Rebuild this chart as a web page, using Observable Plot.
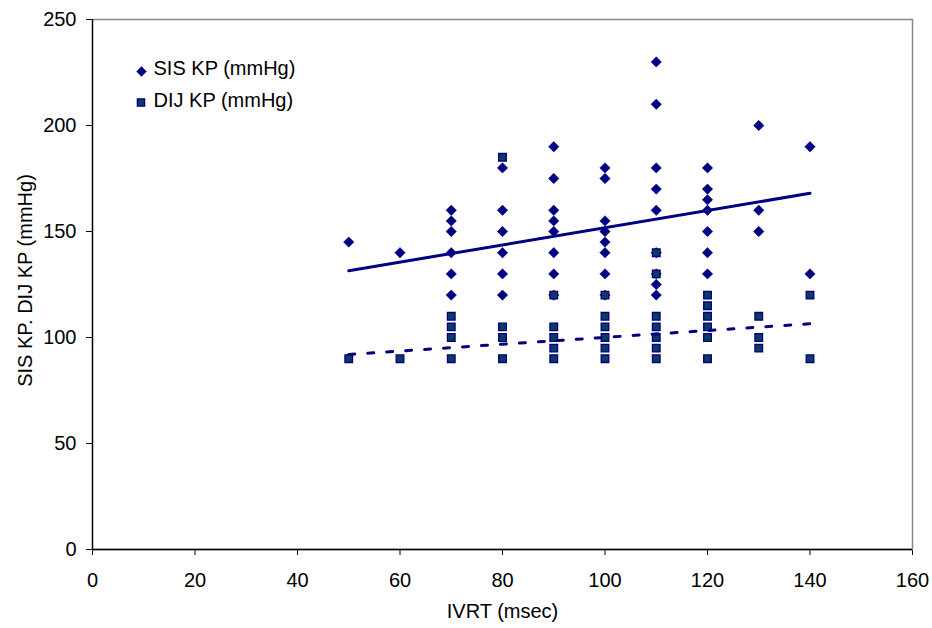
<!DOCTYPE html>
<html>
<head>
<meta charset="utf-8">
<script src="https://cdn.jsdelivr.net/npm/d3@7"></script>
<script src="https://cdn.jsdelivr.net/npm/@observablehq/plot@0.6"></script>
<style>
  html, body { margin: 0; padding: 0; background: #fff; }
  #chart { width: 932px; height: 628px; }
</style>
</head>
<body>
<div id="chart"></div>
<script>
// IVRT groups (msec)
const ivrtGroups = [50, 60, 70, 80, 90, 100, 110, 120, 130, 140];
// Systolic pressure (SIS KP, mmHg) per IVRT group
const sisByGroup = [
  [145],
  [140],
  [160, 155, 150, 140, 130, 120],
  [180, 160, 150, 140, 130, 120],
  [190, 175, 160, 155, 150, 140, 130, 120],
  [180, 175, 155, 150, 145, 140, 130, 120],
  [230, 210, 180, 170, 160, 140, 130, 125, 120],
  [180, 170, 165, 160, 150, 140, 130],
  [200, 160, 150],
  [190, 130]
];
// Diastolic pressure (DIJ KP, mmHg) per IVRT group
const dijByGroup = [
  [90],
  [90],
  [110, 105, 100, 90],
  [185, 105, 100, 90],
  [120, 105, 100, 95, 90],
  [120, 110, 105, 100, 95, 90],
  [140, 130, 110, 105, 100, 95, 90],
  [120, 115, 110, 105, 100, 90],
  [110, 100, 95],
  [120, 90]
];
// Linear trend lines
const trendX = [50, 140];
const sisTrend = [131.5, 168];
const dijTrend = [92, 106.5];

const xTicks = [0, 20, 40, 60, 80, 100, 120, 140, 160];
const yTicks = [0, 50, 100, 150, 200, 250];
const xTitle = "IVRT (msec)";
const yTitle = "SIS KP. DIJ KP (mmHg)";
const legendLabels = ["SIS KP (mmHg)", "DIJ KP (mmHg)"];

const sis = ivrtGroups.flatMap((x, i) => sisByGroup[i].map(y => ({x, y})));
const dij = ivrtGroups.flatMap((x, i) => dijByGroup[i].map(y => ({x, y})));
const sisLine = trendX.map((x, i) => ({x, y: sisTrend[i]}));
const dijLine = trendX.map((x, i) => ({x, y: dijTrend[i]}));

const navy = "#000080";
const sqFill = "#0b3b63";

const chart = Plot.plot({
  width: 932,
  height: 628,
  marginLeft: 92,
  marginRight: 20,
  marginTop: 19,
  marginBottom: 79,
  style: {fontFamily: "'Liberation Sans', Arial, sans-serif", fontSize: "20px", color: "#000", background: "#fff"},
  x: {domain: [0, 160], ticks: xTicks, tickSize: 6, tickPadding: 17, label: null},
  y: {domain: [0, 250], ticks: yTicks, tickSize: 6, tickPadding: 10, label: null},
  marks: [
    Plot.frame({stroke: "#888", strokeWidth: 1.5}),
    Plot.ruleX([0], {stroke: "#000", strokeWidth: 1.3}),
    Plot.ruleY([0], {stroke: "#000", strokeWidth: 1.3}),
    Plot.dot(sis, {x: "x", y: "y", symbol: "diamond2", r: 4.7, fill: navy, stroke: navy, strokeWidth: 0.5}),
    Plot.dot(dij, {x: "x", y: "y", symbol: "square", r: 4.3, fill: sqFill, stroke: navy, strokeWidth: 1.3}),
    Plot.line(sisLine, {x: "x", y: "y", stroke: navy, strokeWidth: 3}),
    Plot.line(dijLine, {x: "x", y: "y", stroke: navy, strokeWidth: 3, strokeDasharray: "6,13"}),
    // legend
    Plot.dot([legendLabels[0]], {frameAnchor: "top-left", dx: 49, dy: 52, symbol: "diamond2", r: 4.4, fill: navy, stroke: navy, strokeWidth: 0.5}),
    Plot.dot([legendLabels[1]], {frameAnchor: "top-left", dx: 48.5, dy: 83, symbol: "square", r: 4.1, fill: sqFill, stroke: navy, strokeWidth: 1.3}),
    Plot.text([legendLabels[0]], {text: d => d, frameAnchor: "top-left", dx: 61, dy: 49, textAnchor: "start", lineAnchor: "middle", fill: "#000", fontSize: 20}),
    Plot.text([legendLabels[1]], {text: d => d, frameAnchor: "top-left", dx: 61, dy: 81, textAnchor: "start", lineAnchor: "middle", fill: "#000", fontSize: 20}),
    // axis titles
    Plot.text([xTitle], {text: d => d, frameAnchor: "bottom", dy: 62.5, textAnchor: "middle", lineAnchor: "middle", fill: "#000", fontSize: 20}),
    Plot.text([yTitle], {text: d => d, frameAnchor: "left", dx: -67, dy: -4, rotate: -90, textAnchor: "middle", lineAnchor: "middle", fill: "#000", fontSize: 20})
  ]
});
document.getElementById("chart").append(chart);
</script>
</body>
</html>
